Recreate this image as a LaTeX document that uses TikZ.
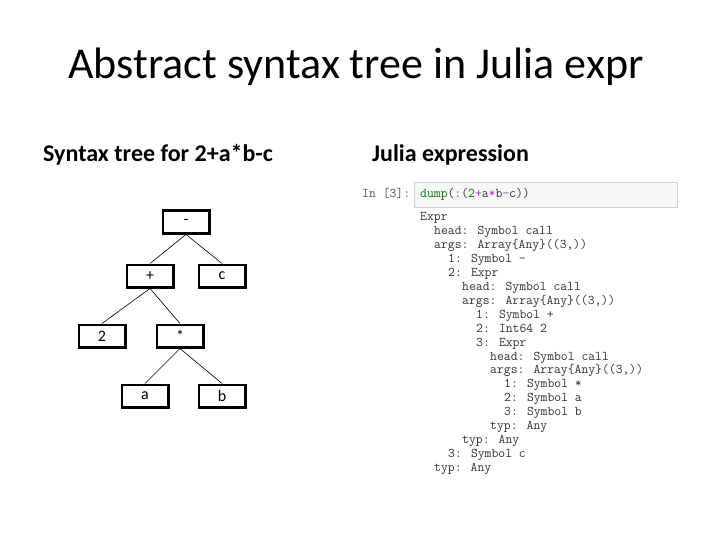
\documentclass[tikz,border=0pt]{standalone}
\usepackage{fontspec}
\setmainfont{Carlito}
\usetikzlibrary{positioning}
\usepackage{xcolor}
\definecolor{cellfill}{HTML}{F7F7F7}
\definecolor{cellline}{HTML}{CFCFCF}
\definecolor{codetext}{HTML}{333333}
\definecolor{promptgray}{HTML}{555555}
\definecolor{kwgreen}{HTML}{008000}
\definecolor{oppurple}{HTML}{AA22FF}

\begin{document}
\begin{tikzpicture}[x=1pt,y=-1pt,
    treebox/.style={draw, line width=2.5pt, minimum width=46.5pt, minimum height=22.5pt,
        inner sep=0pt, font=\fontsize{16}{18}\selectfont},
    treeline/.style={line width=0.6pt},
    plaintext/.style={inner sep=0pt},
    codeline/.style={inner sep=0pt, anchor=base west, text=codetext,
        font=\ttfamily\fontsize{13.3}{15}\selectfont}]
    % page
    \useasboundingbox (0,0) rectangle (720,540);

    % headings
    \node[plaintext, anchor=base, font=\fontsize{44}{48}\selectfont] (title) at (356,79) {Abstract syntax tree in Julia expr};
    \node[plaintext, anchor=base west, font=\bfseries\fontsize{24}{28}\selectfont] (treehead) at (43,162) {Syntax tree for 2+a*b-c};
    \node[plaintext, anchor=base west, font=\bfseries\fontsize{24}{28}\selectfont] (juliahead) at (372,162) {Julia expression};

    % the tree
    \node[treebox] (minus) at (186,222) {-};
    \node[treebox] (plus) at (150,276) {+};
    \node[treebox] (c) at (222,276) {c};
    \node[treebox] (two) at (102,336) {2};
    \node[treebox] (times) at (180,336) {*};
    \node[treebox] (a) at (145,396) {a};
    \node[treebox] (b) at (222,396) {b};

    \draw[treeline] (minus.south) -- (plus.north);
    \draw[treeline] (minus.south) -- (c.north);
    \draw[treeline] (plus.south) -- (two.north);
    \draw[treeline] (plus.south) -- (times.north);
    \draw[treeline] (times.south) -- (a.north);
    \draw[treeline] (times.south) -- (b.north);

    % the notebook cell
    \filldraw[fill=cellfill, draw=cellline, line width=0.6pt] (414,182) rectangle (677,207);
    \node[codeline, text=promptgray] (prompt) at (362,198) {In [3]:};
    \node[codeline] (input) at (420,198) {\textcolor{kwgreen}{dump}(\textcolor{oppurple}{:}(\textcolor{kwgreen}{2}\textcolor{oppurple}{+}a\textcolor{oppurple}{*}b\textcolor{oppurple}{-}c))};

    \foreach \l/\t [count=\i] in {0/Expr,
        1/{head: Symbol call}, 1/{args: Array\{Any\}((3,))},
        2/{1: Symbol -}, 2/{2: Expr},
        3/{head: Symbol call}, 3/{args: Array\{Any\}((3,))},
        4/{1: Symbol +}, 4/{2: Int64 2}, 4/{3: Expr},
        5/{head: Symbol call}, 5/{args: Array\{Any\}((3,))},
        6/{1: Symbol *}, 6/{2: Symbol a}, 6/{3: Symbol b},
        5/{typ: Any}, 3/{typ: Any}, 2/{3: Symbol c}, 1/{typ: Any}}
        \node[codeline] (out\i) at ({420+14*\l},{221+13.9*(\i-1)}) {\t};
\end{tikzpicture}
\end{document}
